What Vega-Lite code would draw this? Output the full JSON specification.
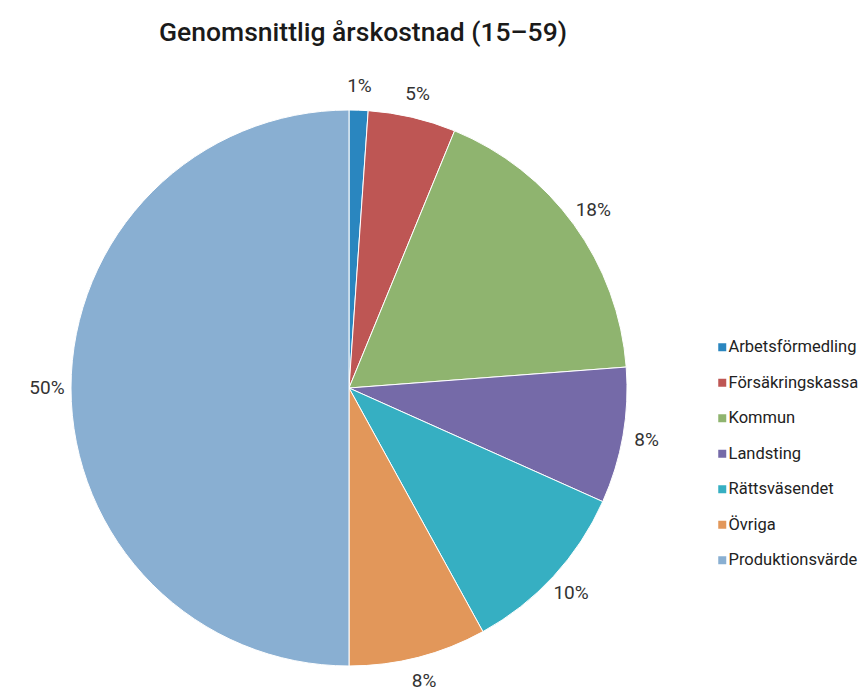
{
  "$schema": "https://vega.github.io/schema/vega-lite/v6.json",
  "autosize": "none",
  "width": 556,
  "height": 556,
  "padding": {"left": 71, "top": 110, "right": 235, "bottom": 25},
  "background": "white",
  "config": {"view": {"stroke": null}, "font": "Roboto"},
  "title": {
    "text": "Genomsnittlig årskostnad (15–59)",
    "frame": "group",
    "anchor": "middle",
    "dx": 14,
    "offset": 31,
    "fontSize": 26.5,
    "fontWeight": 500,
    "color": "#1a1a1a",
    "font": "Roboto"
  },
  "data": {
    "values": [
      {"kategori": "Arbetsförmedling", "andel": 1.1, "etikett": "1%", "ordning": 1},
      {"kategori": "Försäkringskassa", "andel": 5.1, "etikett": "5%", "ordning": 2},
      {"kategori": "Kommun", "andel": 17.6, "etikett": "18%", "ordning": 3},
      {"kategori": "Landsting", "andel": 7.9, "etikett": "8%", "ordning": 4},
      {"kategori": "Rättsväsendet", "andel": 10.3, "etikett": "10%", "ordning": 5},
      {"kategori": "Övriga", "andel": 8.0, "etikett": "8%", "ordning": 6},
      {"kategori": "Produktionsvärde", "andel": 50.0, "etikett": "50%", "ordning": 7}
    ]
  },
  "encoding": {
    "theta": {"field": "andel", "type": "quantitative", "stack": true},
    "order": {"field": "ordning", "type": "quantitative"}
  },
  "layer": [
    {
      "mark": {"type": "arc", "outerRadius": 278, "stroke": "white", "strokeWidth": 1},
      "encoding": {
        "color": {
          "field": "kategori",
          "type": "nominal",
          "sort": null,
          "scale": {
            "domain": ["Arbetsförmedling", "Försäkringskassa", "Kommun", "Landsting", "Rättsväsendet", "Övriga", "Produktionsvärde"],
            "range": ["#2A86BF", "#BE5654", "#8FB46F", "#756AA8", "#36AFC2", "#E2975A", "#89AFD2"]
          },
          "legend": {
            "title": null,
            "orient": "none",
            "legendX": 643,
            "legendY": 229,
            "symbolType": "square",
            "symbolSize": 64,
            "symbolStrokeWidth": 0,
            "labelFontSize": 16.5,
            "labelFont": "Roboto",
            "labelColor": "#222",
            "labelOffset": -2,
            "rowPadding": 18.5
          }
        }
      }
    },
    {
      "mark": {"type": "text", "radius": 302, "fontSize": 19, "font": "Roboto", "color": "#333"},
      "encoding": {"text": {"field": "etikett", "type": "nominal"}}
    }
  ]
}
